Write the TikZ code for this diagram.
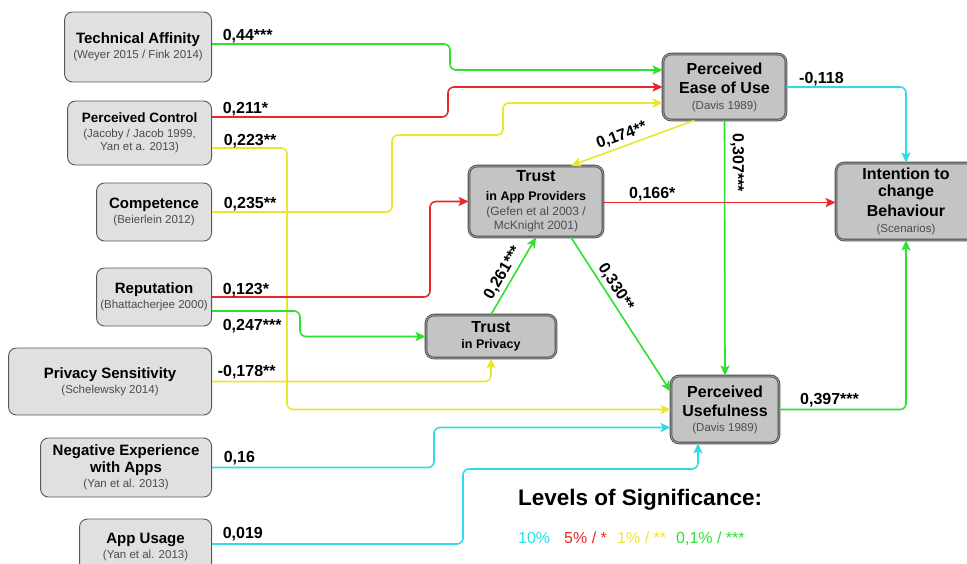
\documentclass[tikz,border=0pt]{standalone}
\usepackage{fontspec}
\setmainfont{Liberation Sans}
\usetikzlibrary{arrows.meta}

\definecolor{sgreen}{RGB}{45,225,45}
\definecolor{sred}{RGB}{232,40,40}
\definecolor{syellow}{RGB}{235,230,45}
\definecolor{scyan}{RGB}{45,220,232}

\newcommand{\hd}[1]{{\fontsize{15}{17}\selectfont\bfseries #1}}
\newcommand{\bhd}[1]{{\fontsize{16}{18}\selectfont\bfseries #1}}
\newcommand{\rf}[1]{{\fontsize{11.5}{13}\selectfont\color{black!70}#1}}

\tikzset{
  leftbox/.style={draw=black!65,line width=0.9pt,fill=black!12,rounded corners=8pt,
    align=center,inner sep=0pt,anchor=east,font=\fontsize{11.5}{15}\selectfont},
  rightbox/.style={draw=black!70,double=black!40,double distance=1pt,line width=0.8pt,
    fill=black!23,rounded corners=8pt,align=center,inner sep=0pt,font=\fontsize{11.5}{15}\selectfont},
  wire/.style={line width=1.6pt,rounded corners=6pt,-{Stealth[length=10pt,width=9pt,inset=2pt]}},
  lbl/.style={font=\fontsize{16}{18}\selectfont\bfseries,text=black,inner sep=3pt},
  lab/.style={lbl,inner sep=0pt,anchor=base west},
}

\begin{document}
\begin{tikzpicture}[x=1pt,y=-1pt]
\useasboundingbox (0,0) rectangle (967,563);
\clip (0,0) rectangle (967,563);

% influencing factors
\node[leftbox,minimum width=147pt,minimum height=70pt] (ta) at (212,47) {\hd{Technical Affinity}\\\rf{(Weyer 2015 / Fink 2014)}};
\node[leftbox,minimum width=144pt,minimum height=64pt] (pc) at (212,133) {{\fontsize{13.5}{15}\selectfont\bfseries Perceived Control}\\\rf{(Jacoby / Jacob 1999,}\\[-2pt]\rf{Yan et a. 2013)}};
\node[leftbox,minimum width=115pt,minimum height=58pt] (comp) at (212,212) {\hd{Competence}\\\rf{(Beierlein 2012)}};
\node[leftbox,minimum width=115pt,minimum height=58pt] (rep) at (212,297) {\hd{Reputation}\\\rf{(Bhattacherjee 2000)}};
\node[leftbox,minimum width=203pt,minimum height=67pt] (ps) at (212,381.5) {\hd{Privacy Sensitivity}\\\rf{(Schelewsky 2014)}};
\node[leftbox,minimum width=171pt,minimum height=59pt] (negexp) at (212,467.5) {\hd{Negative Experience}\\[2pt]\hd{with Apps}\\\rf{(Yan et al. 2013)}};
\node[leftbox,minimum width=132pt,minimum height=56pt] (usage) at (212,547) {\hd{App Usage}\\\rf{(Yan et al. 2013)}};

% model constructs
\node[rightbox,minimum width=123pt,minimum height=66pt] (peou) at (724.5,87) {\bhd{Perceived}\\[4pt]\bhd{Ease of Use}\\[1pt]\rf{(Davis 1989)}};
\node[rightbox,minimum width=134pt,minimum height=71pt] (tap) at (536,201.5) {\bhd{Trust}\\[4pt]{\fontsize{12.5}{15}\selectfont\bfseries in App Providers}\\{\fontsize{12}{14}\selectfont\color{black!70}(Gefen et al 2003 /}\\[-1pt]{\fontsize{12}{14}\selectfont\color{black!70}McKnight 2001)}};
\node[rightbox,minimum width=130pt,minimum height=43pt] (tp) at (491,336.5) {\bhd{Trust}\\[1pt]{\fontsize{12.5}{15}\selectfont\bfseries in Privacy}};
\node[rightbox,minimum width=108pt,minimum height=67pt] (pu) at (725,409.5) {\bhd{Perceived}\\[4pt]\bhd{Usefulness}\\\rf{(Davis 1989)}};
\node[rightbox,minimum width=140pt,minimum height=77pt] (itb) at (906,201.5) {\bhd{Intention to}\\[2pt]\bhd{change}\\[5pt]\bhd{Behaviour}\\[1pt]\rf{(Scenarios)}};

% paths from the factors
\draw[wire,sgreen] ([yshift=3pt]ta.east) node[lab,shift={(10pt,4pt)}] {0,44***} -| (450,57) |- ([yshift=17pt]peou.west);
\draw[wire,sred] ([yshift=16pt]pc.east) node[lab,shift={(10pt,4pt)}] {0,211*} -| (448,100) |- (peou.west);
\draw[wire,syellow] ([yshift=-15pt]pc.east) node[lab,shift={(11pt,3pt)}] {0,223**} -| (287,300) |- (pu.west);
\draw[wire,syellow] (comp.east) node[lab,shift={(11pt,4pt)}] {0,235**} -| (392,135) -| (503,120) |- ([yshift=-16pt]peou.west);
\draw[wire,sred] (rep.east) node[lab,shift={(10pt,3pt)}] {0,123*} -| (430,250) |- (tap.west);
\draw[wire,sgreen] ([yshift=-14pt]rep.east) node[lab,shift={(10pt,-19pt)}] {0,247***} -| (300,325) |- (tp.west);
\draw[wire,syellow] (ps.east) node[lab,shift={(5pt,5pt)}] {-0,178**} -| (tp.south);
\draw[wire,scyan] (negexp.east) node[lab,shift={(11pt,5pt)}] {0,16} -| (434,450) |- ([yshift=-18pt]pu.west);
\draw[wire,scyan] ([yshift=3pt]usage.east) node[lab,shift={(10pt,6pt)}] {0,019} -| (463,469) -| ([xshift=-27pt]pu.south);

% paths inside the model
\draw[wire,syellow] ([xshift=-30pt]peou.south) -- ([xshift=35pt]tap.north) node[lbl,sloped,above,pos=0.56] {0,174**};
\draw[wire,sgreen] (peou.south) -- (pu.north) node[lbl,rotate=-90,anchor=south,inner sep=5pt,pos=0.165] {0,307***};
\draw[wire,sred] ([yshift=-1pt]tap.east) node[lab,shift={(25pt,4pt)}] {0,166*} -- ([yshift=-1pt]itb.west);
\draw[wire,sgreen] (tp.north) -- (tap.south) node[lbl,sloped,above,pos=0.47] {0,261***};
\draw[wire,sgreen] ([xshift=35pt]tap.south) -- ([yshift=18pt]pu.west) node[lbl,sloped,above,pos=0.36] {0,330**};
\draw[wire,scyan] (peou.east) node[lab,shift={(12pt,4pt)}] {-0,118} -| (itb.north);
\draw[wire,sgreen] (pu.east) node[lab,shift={(20pt,5pt)}] {0,397***} -| (itb.south);

% legend
\node[anchor=base west,inner sep=0pt,font=\fontsize{22.5}{26}\selectfont\bfseries] (lev) at (518,505) {Levels of Significance:};
\node[anchor=base west,inner sep=0pt,font=\fontsize{16}{18}\selectfont,text=scyan] (l10) at (518,543) {10\%};
\node[anchor=base west,inner sep=0pt,font=\fontsize{16}{18}\selectfont,text=sred] (l5) at (564,543) {5\% / *};
\node[anchor=base west,inner sep=0pt,font=\fontsize{16}{18}\selectfont,text=syellow] (l1) at (617,543) {1\% / **};
\node[anchor=base west,inner sep=0pt,font=\fontsize{16}{18}\selectfont,text=sgreen] (l01) at (676,543) {0,1\% / ***};
\end{tikzpicture}
\end{document}
